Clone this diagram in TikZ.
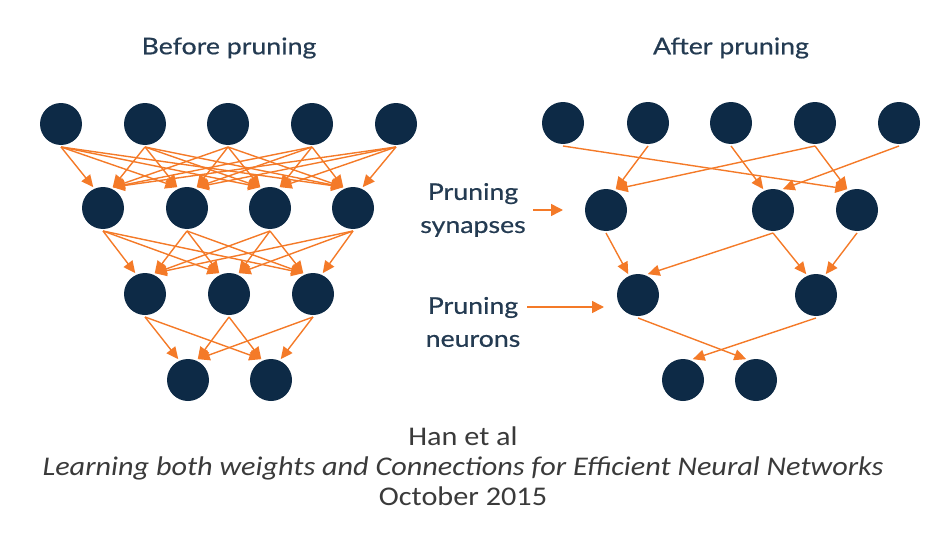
\documentclass[tikz,border=0pt]{standalone}
\usepackage{fontspec}
\setmainfont{Carlito}
\newfontfamily\capfont[FakeStretch=1.12]{Carlito}
\newfontfamily\latofont[FakeStretch=1.16,FakeBold=0.6]{Lato}
\usetikzlibrary{arrows.meta}
\definecolor{navy}{HTML}{0D2A46}
\definecolor{orng}{HTML}{F47A28}
\definecolor{ttl}{HTML}{243B52}
\definecolor{captxt}{HTML}{3A3A3A}
\newdimen\cnxa \newdimen\cnya \newdimen\cnxb \newdimen\cnyb
\newcommand\conn[2]{%
  \pgfextractx{\cnxa}{\pgfpointanchor{#1}{south}}%
  \pgfextracty{\cnya}{\pgfpointanchor{#1}{south}}%
  \pgfextractx{\cnxb}{\pgfpointanchor{#2}{center}}%
  \pgfextracty{\cnyb}{\pgfpointanchor{#2}{center}}%
  \pgfmathtruncatemacro\cnang{min(max(atan2(\cnya-\cnyb,\cnxa-\cnxb),65),115)}%
  \draw[syn] (#1.south) -- (#2.\cnang);}
\tikzset{
  neuron/.style={circle,fill=navy,minimum size=42pt,inner sep=0pt,outer sep=2pt},
  syn/.style={draw=orng,line width=1.4pt,-{Triangle[length=12pt,width=11pt]}},
  marker/.style={draw=orng,line width=1.6pt,-{Triangle[length=12pt,width=12pt]}},
  title/.style={font=\latofont\fontsize{23}{27}\selectfont,text=ttl},
  side/.style={font=\latofont\fontsize{23}{33}\selectfont,text=ttl,align=center},
  caption/.style={font=\capfont\fontsize{27}{30}\selectfont,text=captxt,align=center}
}
\begin{document}
\begin{tikzpicture}[x=1pt,y=-1pt]
\useasboundingbox (0,0) rectangle (940,543);
% titles
\node[title] (tb) at (229,48) {Before pruning};
\node[title] (ta) at (731,48) {After pruning};
% left network
\foreach \x [count=\i] in {61,145,228,312,396} \node[neuron] (La\i) at (\x,124) {};
\foreach \x [count=\i] in {103,187,270,353} \node[neuron] (Lb\i) at (\x,208) {};
\foreach \x [count=\i] in {145,229,313} \node[neuron] (Lc\i) at (\x,294) {};
\foreach \x [count=\i] in {188,271} \node[neuron] (Ld\i) at (\x,380) {};
\foreach \i in {1,...,5} \foreach \j in {1,...,4} {\conn{La\i}{Lb\j}}
\foreach \i in {1,...,4} \foreach \j in {1,...,3} {\conn{Lb\i}{Lc\j}}
\foreach \i in {1,...,3} \foreach \j in {1,2} {\conn{Lc\i}{Ld\j}}
% right network
\foreach \x [count=\i] in {563,648,731,815,899} \node[neuron] (Ra\i) at (\x,123) {};
\foreach \x [count=\i] in {606,773,857} \node[neuron] (Rb\i) at (\x,210) {};
\foreach \x [count=\i] in {638,816} \node[neuron] (Rc\i) at (\x,295) {};
\foreach \x [count=\i] in {683,756} \node[neuron] (Rd\i) at (\x,380) {};
\conn{Ra1}{Rb3}
\conn{Ra2}{Rb1}
\conn{Ra3}{Rb2}
\conn{Ra4}{Rb1}
\conn{Ra4}{Rb3}
\conn{Ra5}{Rb2}
\conn{Rb1}{Rc1}
\conn{Rb2}{Rc1}
\conn{Rb2}{Rc2}
\conn{Rb3}{Rc2}
\conn{Rc1}{Rd2}
\conn{Rc2}{Rd1}
% side labels
\node[side] (ps) at (473,210) {Pruning\\synapses};
\node[side] (pn) at (473,322) {Pruning\\neurons};
\coordinate (psA) at (533,210);
\coordinate (psB) at (563,210);
\coordinate (pnA) at (527,307);
\coordinate (pnB) at (604,307);
\draw[marker] (psA) -- (psB);
\draw[marker] (pnA) -- (pnB);
% caption
\node[caption] (cap) at (463,466) {Han et al\\\textit{Learning both weights and Connections for Efficient Neural Networks}\\October 2015};
\end{tikzpicture}
\end{document}
